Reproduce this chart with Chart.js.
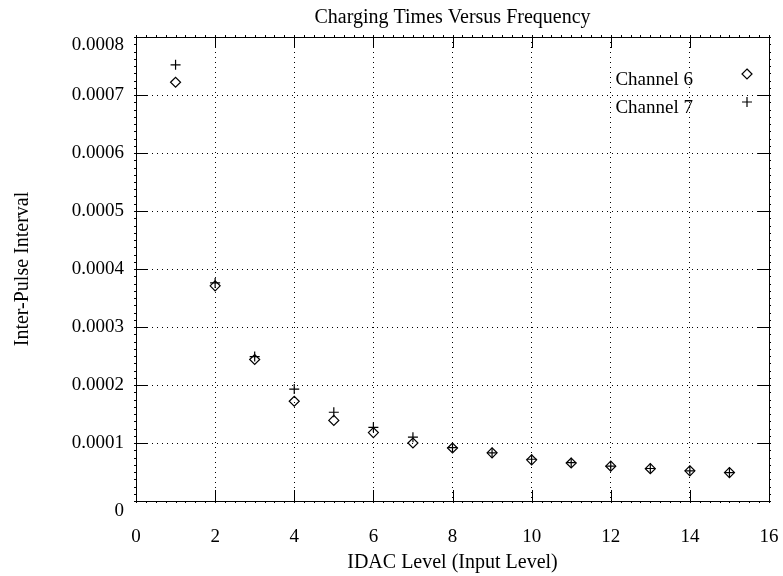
<html>
  <head>
    <title>Charging Times Versus Frequency</title>
    <script src="https://cdn.jsdelivr.net/npm/chart.js@4.4.1/dist/chart.umd.min.js"></script>
    <style>
      body { margin: 0; background: #ffffff; }
      .wrap { width: 783px; height: 576px; position: relative; }
    </style>
  </head>
  <body>
    <div class="wrap">
      <canvas id="myChart"></canvas>
    </div>
  <script>
    // values
    const levels = [1, 2, 3, 4, 5, 6, 7, 8, 9, 10, 11, 12, 13, 14, 15];
    const channel6 = [0.000722, 0.000371, 0.000244, 0.000172, 0.000139, 0.000118, 0.000100,
                      0.0000914, 0.000083, 0.000071, 0.0000655, 0.000060, 0.0000557, 0.000052, 0.000049];
    const channel7 = [0.000752, 0.000376, 0.000249, 0.000193, 0.000153, 0.000127, 0.000110,
                      0.000092, 0.000083, 0.000072, 0.000066, 0.000060, 0.000056, 0.000052, 0.000049];
    const xTicks = [0, 2, 4, 6, 8, 10, 12, 14, 16];
    const yTicks = ['0', '0.0001', '0.0002', '0.0003', '0.0004', '0.0005', '0.0006', '0.0007', '0.0008'];
    const seriesNames = ['Channel 6', 'Channel 7'];

    const FONT = "'Liberation Serif', 'Times New Roman', serif";
    const INK = '#000000';

    const toPoints = (ys) => levels.map((x, i) => ({ x: x, y: ys[i] }));

    // small diamond / plus drawn by hand for the legend
    function legendMarker(ctx, style, x, y, r) {
      ctx.beginPath();
      if (style === 'rectRot') {
        ctx.moveTo(x, y - r); ctx.lineTo(x + r, y); ctx.lineTo(x, y + r); ctx.lineTo(x - r, y); ctx.closePath();
      } else {
        ctx.moveTo(x - r, y); ctx.lineTo(x + r, y);
        ctx.moveTo(x, y - r); ctx.lineTo(x, y + r);
      }
      ctx.stroke();
    }

    // frame, inward major ticks, small minor ticks, y labels and the legend
    const framePlugin = {
      id: 'frame',
      afterDraw(chart) {
        const ctx = chart.ctx;
        const a = chart.chartArea;
        const xs = chart.scales.x, ys = chart.scales.y;
        ctx.save();
        ctx.strokeStyle = INK;
        ctx.lineWidth = 1;
        ctx.setLineDash([]);
        ctx.strokeRect(Math.round(a.left) + 0.5, Math.round(a.top) + 0.5,
                       Math.round(a.right - a.left), Math.round(a.bottom - a.top));

        ctx.beginPath();
        // major ticks pointing into the plot
        xTicks.forEach(v => {
          const px = Math.round(xs.getPixelForValue(v)) + 0.5;
          ctx.moveTo(px, a.top); ctx.lineTo(px, a.top + 11);
          ctx.moveTo(px, a.bottom); ctx.lineTo(px, a.bottom - 11);
        });
        yTicks.forEach(t => {
          const py = Math.round(ys.getPixelForValue(Number(t))) + 0.5;
          ctx.moveTo(a.left, py); ctx.lineTo(a.left + 11, py);
          ctx.moveTo(a.right, py); ctx.lineTo(a.right - 11, py);
        });
        // minor ticks, eight to a major step
        for (let i = 0; i <= 64; i++) {
          const px = Math.round(xs.getPixelForValue(i * 0.25)) + 0.5;
          ctx.moveTo(px, a.bottom); ctx.lineTo(px, a.bottom + 2);
          ctx.moveTo(px, a.top); ctx.lineTo(px, a.top - 2);
        }
        for (let i = 0; i <= 64; i++) {
          const py = Math.round(ys.getPixelForValue(i * 0.0000125)) + 0.5;
          ctx.moveTo(a.left, py); ctx.lineTo(a.left - 2, py);
          ctx.moveTo(a.right, py); ctx.lineTo(a.right + 2, py);
        }
        ctx.stroke();

        // y tick labels (end labels sit a little below their lines, as in the original)
        ctx.fillStyle = INK;
        ctx.font = '19px ' + FONT;
        ctx.textAlign = 'right';
        ctx.textBaseline = 'middle';
        yTicks.forEach((t, i) => {
          let py = ys.getPixelForValue(Number(t));
          if (i === 0) py += 10;
          if (i === yTicks.length - 1) py += 8;
          ctx.fillText(t, a.left - 12, py);
        });

        // legend, text on the left and marker on the right
        ctx.lineWidth = 1.2;
        const styles = ['rectRot', 'cross'];
        seriesNames.forEach((name, i) => {
          const ty = 80 + i * 28;
          ctx.fillText(name, 693, ty);
          legendMarker(ctx, styles[i], 747, ty - 6, 5);
        });
        ctx.restore();
      }
    };

    const markerBase = {
      showLine: false,
      borderColor: INK,
      backgroundColor: 'rgba(0,0,0,0)',
      pointBorderWidth: 1.2,
      pointRadius: 5,
      pointHoverRadius: 5
    };

    const config = {
      type: 'scatter',
      data: {
        datasets: [
          Object.assign({ label: seriesNames[0], data: toPoints(channel6), pointStyle: 'rectRot' }, markerBase),
          Object.assign({ label: seriesNames[1], data: toPoints(channel7), pointStyle: 'cross' }, markerBase)
        ]
      },
      options: {
        responsive: true,
        maintainAspectRatio: false,
        animation: false,
        layout: { padding: { left: 0, right: 14, top: 0, bottom: 0 } },
        plugins: {
          legend: { display: false },
          tooltip: { enabled: false },
          title: {
            display: true,
            fullSize: false, // centre over the plot, not the page
            text: 'Charging Times Versus Frequency',
            color: INK,
            font: { family: FONT, size: 20, weight: 'normal' },
            padding: { top: 6, bottom: 7 }
          }
        },
        scales: {
          x: {
            type: 'linear',
            min: 0,
            max: 16,
            afterFit(scale) {
              scale.height = 75;
              scale.paddingLeft = 0;
              scale.paddingRight = 0;
            },
            afterBuildTicks(scale) { scale.ticks = xTicks.map(v => ({ value: v })); },
            ticks: {
              color: INK,
              font: { family: FONT, size: 19 },
              padding: 25,
              maxRotation: 0
            },
            // dotted grid lines
            grid: { color: INK, lineWidth: 1, drawTicks: false },
            border: { display: true, color: INK, dash: [1, 4] },
            title: {
              display: true,
              text: 'IDAC Level (Input Level)',
              color: INK,
              font: { family: FONT, size: 20 },
              padding: { top: 0, bottom: 1 }
            }
          },
          y: {
            type: 'linear',
            min: 0,
            max: 0.0008,
            afterFit(scale) {
              scale.width = 136;
              scale.paddingTop = 0;
              scale.paddingBottom = 0;
            },
            afterBuildTicks(scale) { scale.ticks = yTicks.map(t => ({ value: Number(t) })); },
            ticks: {
              color: 'rgba(0,0,0,0)',
              font: { family: FONT, size: 19 },
              callback: (v) => (v === 0 ? '0' : v.toFixed(4))
            },
            grid: { color: INK, lineWidth: 1, drawTicks: false },
            border: { display: true, color: INK, dash: [1, 4] },
            title: {
              display: true,
              text: 'Inter-Pulse Interval',
              color: INK,
              font: { family: FONT, size: 20 },
              padding: { top: 11, bottom: 0 }
            }
          }
        }
      },
      plugins: [framePlugin]
    };

    const ctx = document.getElementById('myChart');
    const myChart = new Chart(ctx, config);
  </script>
  </body>
</html>
